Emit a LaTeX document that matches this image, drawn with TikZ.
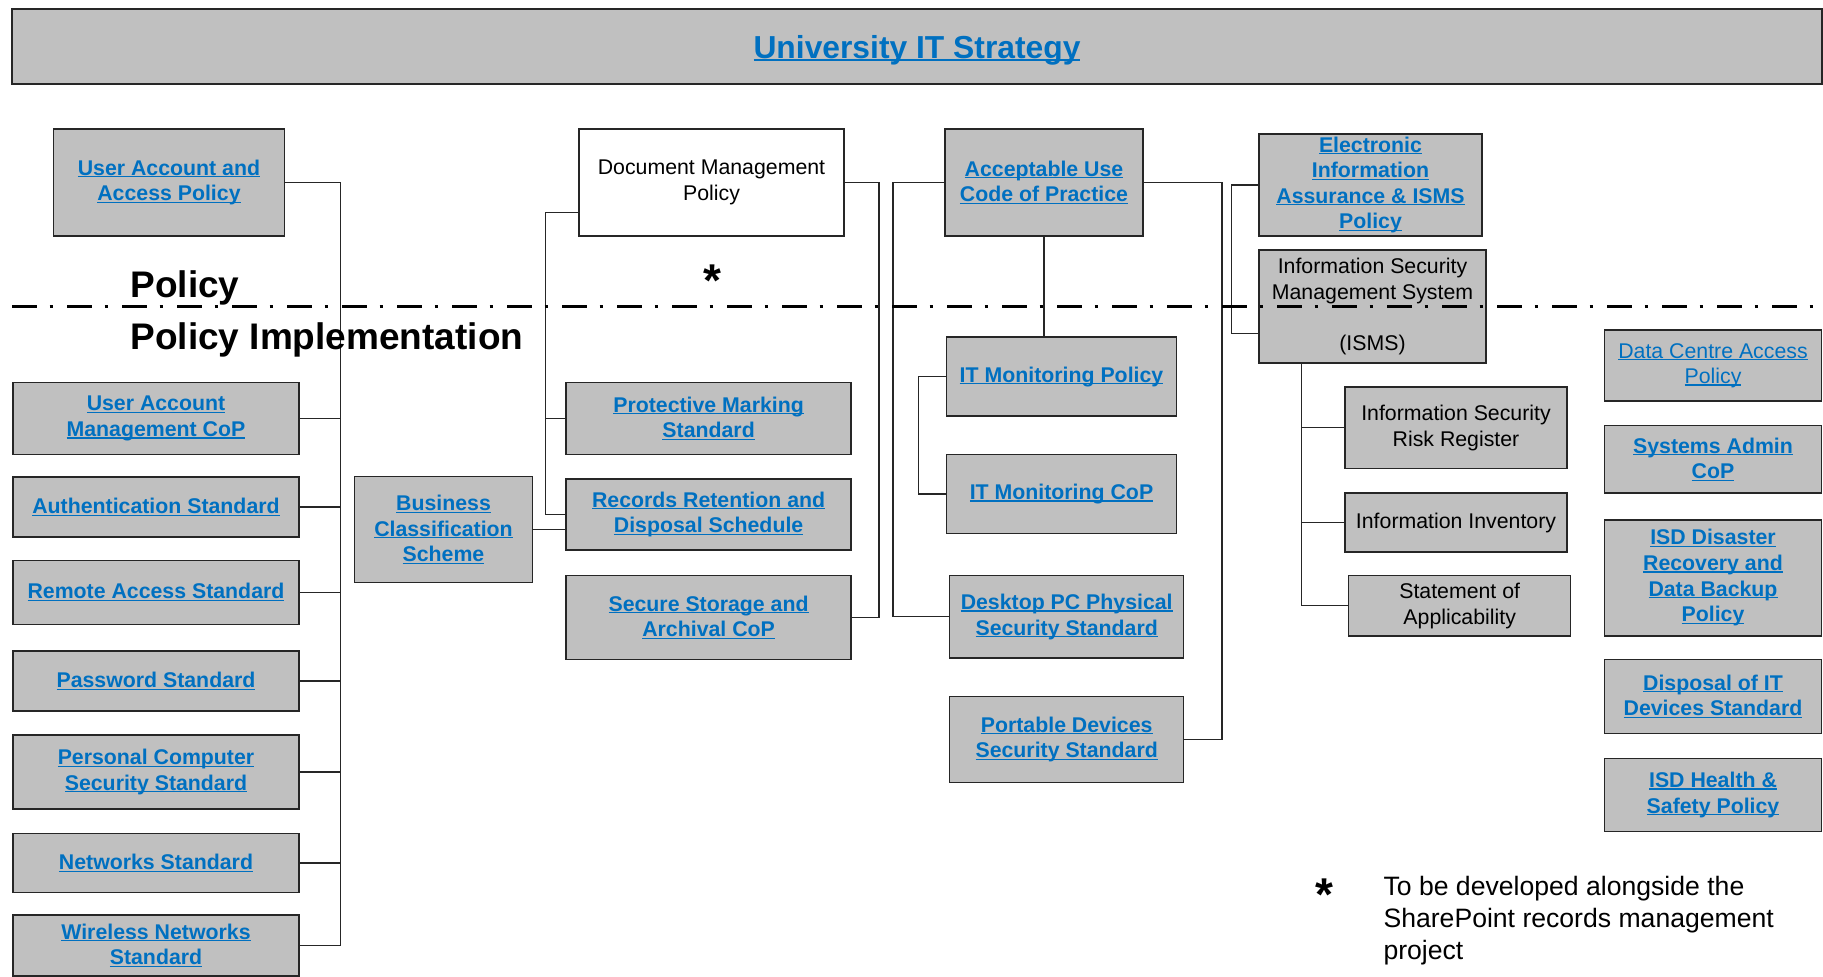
\documentclass[tikz,border=0pt]{standalone}
\usepackage{fontspec}
\setmainfont{Liberation Sans}
\usetikzlibrary{calc}

\definecolor{boxgray}{RGB}{192,192,192}
\definecolor{linkblue}{RGB}{0,112,192}
\newcommand{\boxfont}{\fontsize{21.3}{25.6}\selectfont}
\newcommand{\titlefont}{\fontsize{31.8}{38}\selectfont\bfseries}
\newcommand{\levelfont}{\fontsize{37}{44}\selectfont\bfseries}
\newcommand{\notefont}{\fontsize{26.6}{32}\selectfont}
\newsavebox\lnkbox
\newcommand{\lnk}[1]{\leavevmode\sbox\lnkbox{#1}\rlap{\rule[-0.1em]{\wd\lnkbox}{0.06em}}\usebox\lnkbox}

\begin{document}
\begin{tikzpicture}[x=1pt, y=-1pt,
  box/.style={draw=black!85, line width=1.4pt, fill=boxgray, align=center, font=\boxfont, inner sep=0pt},
  linkbox/.style={box, text=linkblue, font=\boxfont\bfseries},
  plainbox/.style={box, text=black},
  wh/.style 2 args={minimum width=#1pt, minimum height=#2pt},
  conn/.style={draw=black!85, line width=1.1pt},
  divider/.style={line width=2.7pt, dash pattern=on 25pt off 12.5pt on 3pt off 14.5pt}]
  \useasboundingbox (0,0) rectangle (1823,977);

  % Strategy
  \node[box, text=linkblue, font=\titlefont, text depth=0pt, wh={1810}{75}] (title) at (917,46.5) {\lnk{University IT Strategy}};

  % Policies
  \node[linkbox, wh={231}{107}] (uaap) at (169,182.5) {\lnk{User Account and}\\\lnk{Access Policy}};
  \node[plainbox, fill=white, wh={265}{107}] (dmp) at (711.5,182.5) {Document Management\\Policy};
  \node[linkbox, wh={198}{107}] (aucp) at (1044,182.5) {\lnk{Acceptable Use}\\\lnk{Code of Practice}};
  \node[linkbox, wh={223}{102}] (eia) at (1370.5,185) {\lnk{Electronic}\\\lnk{Information}\\\lnk{Assurance \& ISMS}\\\lnk{Policy}};
  \node[plainbox, wh={227}{113}] (isms) at (1372.5,306.5) {Information Security\\Management System\\[25.6pt](ISMS)};

  % Left column
  \node[linkbox, wh={286}{72}] (uamc) at (156,418.5) {\lnk{User Account}\\\lnk{Management CoP}};
  \node[linkbox, wh={286}{60}] (auth) at (156,507) {\lnk{Authentication Standard}};
  \node[linkbox, wh={286}{64}] (remote) at (156,592.3) {\lnk{Remote Access Standard}};
  \node[linkbox, wh={286}{60}] (password) at (156,681) {\lnk{Password Standard}};
  \node[linkbox, wh={286}{74}] (pcss) at (156,772) {\lnk{Personal Computer}\\\lnk{Security Standard}};
  \node[linkbox, wh={286}{59}] (networks) at (156,863) {\lnk{Networks Standard}};
  \node[linkbox, wh={286}{61}] (wireless) at (156,945.5) {\lnk{Wireless Networks}\\\lnk{Standard}};

  % Records
  \node[linkbox, wh={178}{106}] (bcs) at (443.5,529.6) {\lnk{Business}\\\lnk{Classification}\\\lnk{Scheme}};
  \node[linkbox, wh={285}{72}] (pms) at (708.6,418.5) {\lnk{Protective Marking}\\\lnk{Standard}};
  \node[linkbox, wh={285}{71}] (rrds) at (708.6,514.5) {\lnk{Records Retention and}\\\lnk{Disposal Schedule}};
  \node[linkbox, wh={285}{84}] (ssac) at (708.6,617.3) {\lnk{Secure Storage and}\\\lnk{Archival CoP}};

  % Acceptable use
  \node[linkbox, wh={230}{79}] (itmp) at (1061.5,376.6) {\lnk{IT Monitoring Policy}};
  \node[linkbox, wh={230}{79}] (itmc) at (1061.5,494) {\lnk{IT Monitoring CoP}};
  \node[linkbox, wh={234}{82.5}] (dpc) at (1066.7,616.8) {\lnk{Desktop PC Physical}\\\lnk{Security Standard}};
  \node[linkbox, wh={234}{86}] (pdss) at (1066.7,739.4) {\lnk{Portable Devices}\\\lnk{Security Standard}};

  % ISMS
  \node[plainbox, wh={222}{81.5}] (isrr) at (1456,427.8) {Information Security\\Risk Register};
  \node[plainbox, wh={222}{59}] (inv) at (1456,522.6) {Information Inventory};
  \node[plainbox, wh={222}{60.5}] (soa) at (1459.7,605.7) {Statement of\\Applicability};

  % Right column
  \node[box, text=linkblue, wh={217}{71}] (dcap) at (1713,365.6) {\lnk{Data Centre Access}\\\lnk{Policy}};
  \node[linkbox, wh={217}{67.5}] (sac) at (1713,459.3) {\lnk{Systems Admin}\\\lnk{CoP}};
  \node[linkbox, wh={217}{116}] (isdd) at (1713,577.8) {\lnk{ISD Disaster}\\\lnk{Recovery and}\\\lnk{Data Backup}\\\lnk{Policy}};
  \node[linkbox, wh={217}{74}] (doit) at (1713,696.4) {\lnk{Disposal of IT}\\\lnk{Devices Standard}};
  \node[linkbox, wh={217}{73}] (isdh) at (1713,794.7) {\lnk{ISD Health \&}\\\lnk{Safety Policy}};

  % Trunks
  \coordinate (lt) at (340.6,0);
  \coordinate (dl) at (545.3,0);
  \coordinate (dr) at (879,0);
  \coordinate (al) at (893,0);
  \coordinate (ar) at (1222,0);
  \coordinate (ml) at (918.5,0);
  \coordinate (el) at (1231.2,0);
  \coordinate (dmpl) at ($(dmp.west)+(0,30)$);
  \coordinate (ismsl) at ($(isms.west)+(0,27)$);
  \coordinate (ismsb) at ($(isms.south west)+(43,0)$);

  % Connectors
  \draw[conn] (uaap.east) -| (wireless.east -| lt) -- (wireless.east);
  \foreach \n in {uamc,auth,remote,password,pcss,networks}
    \draw[conn] (\n.east) -- (\n.east -| lt);
  \draw[conn] (dmpl) -| (rrds.west -| dl) -- (rrds.west);
  \draw[conn] (pms.west) -- (pms.west -| dl);
  \draw[conn] (dmp.east) -| (ssac.east -| dr) -- (ssac.east);
  \draw[conn] (bcs.east) -- (bcs.east -| rrds.west);
  \draw[conn] (aucp.south) -- (aucp.south |- itmp.north);
  \draw[conn] (aucp.west) -| (dpc.west -| al) -- (dpc.west);
  \draw[conn] (aucp.east) -| (pdss.east -| ar) -- (pdss.east);
  \draw[conn] (itmp.west) -| (itmc.west -| ml) -- (itmc.west);
  \draw[conn] (eia.west) -| (ismsl -| el) -- (ismsl);
  \draw[conn] (ismsb) |- (soa.west);
  \foreach \n in {isrr,inv}
    \draw[conn] (\n.west) -- (\n.west -| ismsb);

  % Policy line
  \draw[divider] (12,306.7) -- (1823,306.7);
  \node[anchor=base west, font=\levelfont] (pol) at (127,297) {Policy};
  \node[anchor=base west, font=\levelfont] (impl) at (127,349) {Policy Implementation};
  \node[anchor=north, font=\fontsize{46}{50}\selectfont\bfseries] (star) at (712,261.5) {*};

  % Note
  \node[anchor=north, font=\fontsize{46}{50}\selectfont\bfseries] (notestar) at (1324,875.5) {*};
  \node[anchor=north west, align=left, font=\notefont] (note) at (1380,873) {To be developed alongside the\\SharePoint records management\\project};
\end{tikzpicture}
\end{document}
